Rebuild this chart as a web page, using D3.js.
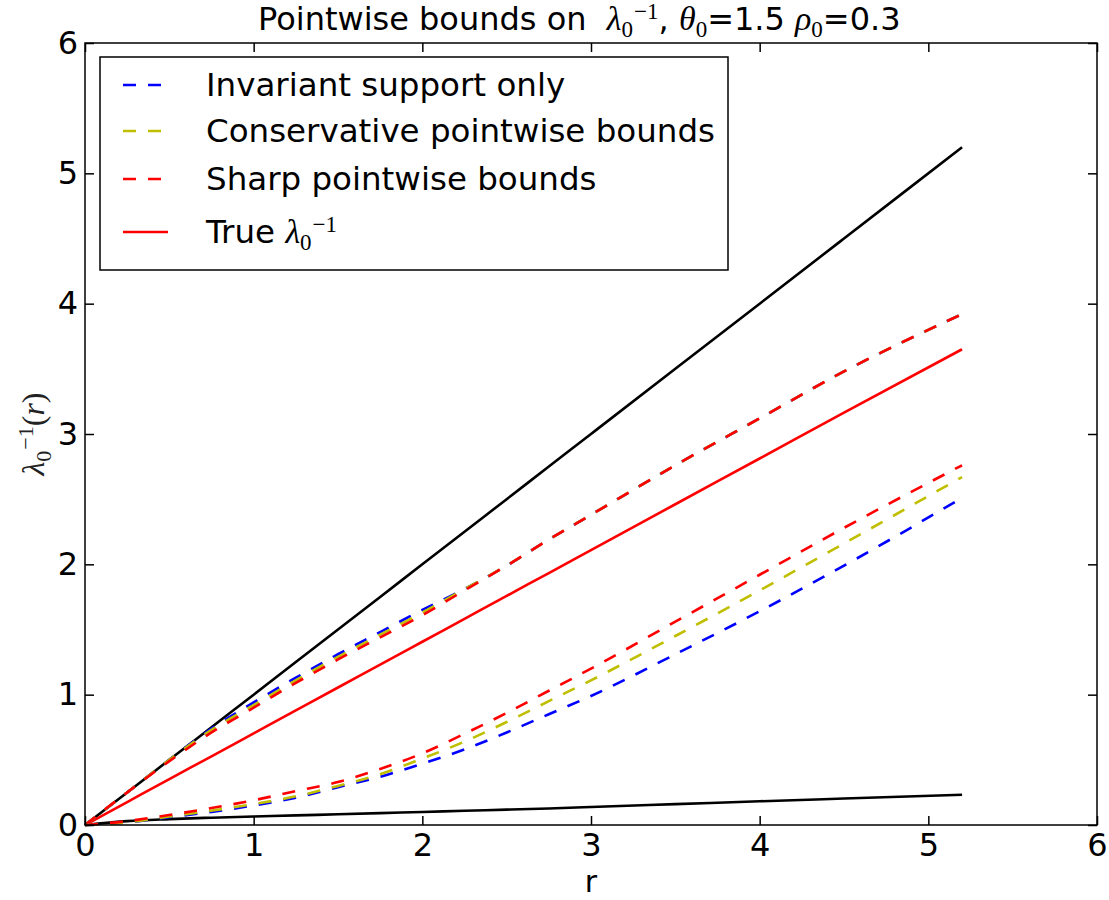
<!DOCTYPE html>
<html lang="en">

<head>
  <meta charset="UTF-8">
  <title>Pointwise bounds</title>
  <script src="https://d3js.org/d3.v7.min.js"></script>
  <style>
    body { margin: 0; background: #fff; }
    text { font-family: "DejaVu Sans", sans-serif; }
  </style>
</head>

<body>
  <script>

    // r grid shared by every curve
    var rValues = [0, 0.25, 0.5, 0.75, 1, 1.25, 1.5, 1.75, 2, 2.25, 2.5, 2.75, 3, 3.5, 4, 4.5, 5.2];

    // outer black envelope
    var blackUpper = [0, 0.25, 0.5, 0.75, 1, 1.25, 1.5, 1.75, 2, 2.25, 2.5, 2.75, 3, 3.5, 4, 4.5, 5.2];
    var blackLower = [0, 0.03, 0.045, 0.056, 0.065, 0.074, 0.082, 0.091, 0.1, 0.109, 0.118, 0.127, 0.138, 0.16, 0.182, 0.203, 0.232];

    // true lambda_0^{-1}
    var trueLambda = [0, 0.176, 0.352, 0.527, 0.703, 0.879, 1.055, 1.23, 1.406, 1.582, 1.758, 1.933, 2.109, 2.461, 2.812, 3.164, 3.65];

    // upper bounds
    var invUpper = [0, 0.25, 0.5, 0.74, 0.94, 1.13, 1.31, 1.48, 1.65, 1.81, 1.99, 2.19, 2.38, 2.76, 3.12, 3.48, 3.92];
    var consUpper = [0, 0.25, 0.5, 0.73, 0.92, 1.11, 1.29, 1.46, 1.63, 1.81, 1.99, 2.19, 2.38, 2.76, 3.12, 3.48, 3.92];
    var sharpUpper = [0, 0.25, 0.49, 0.71, 0.9, 1.09, 1.27, 1.44, 1.61, 1.8, 1.99, 2.19, 2.38, 2.76, 3.12, 3.48, 3.92];

    // lower bounds
    var invLower = [0, 0.02, 0.06, 0.1, 0.15, 0.21, 0.29, 0.37, 0.47, 0.58, 0.71, 0.85, 0.99, 1.31, 1.64, 1.99, 2.51];
    var consLower = [0, 0.02, 0.065, 0.11, 0.16, 0.22, 0.3, 0.39, 0.51, 0.64, 0.79, 0.95, 1.11, 1.45, 1.8, 2.16, 2.67];
    var sharpLower = [0, 0.03, 0.077, 0.13, 0.19, 0.26, 0.33, 0.43, 0.55, 0.7, 0.86, 1.03, 1.2, 1.56, 1.92, 2.28, 2.76];

    var xTicks = [0, 1, 2, 3, 4, 5, 6];
    var yTicks = [0, 1, 2, 3, 4, 5, 6];

    var legendLabels = ["Invariant support only", "Conservative pointwise bounds", "Sharp pointwise bounds", "True"];

    var W = 1109, H = 900;
    var margin = { top: 43, right: 12, bottom: 75, left: 85 };

    var x = d3.scaleLinear().domain([0, 6]).range([margin.left, W - margin.right]);
    var y = d3.scaleLinear().domain([0, 6]).range([H - margin.bottom, margin.top]);

    var svg = d3.select("body").append("svg")
      .attr("width", W)
      .attr("height", H);

    var serif = "'Liberation Serif', 'DejaVu Serif', serif";
    var fs = 32;

    // series to draw (order = paint order)
    var series = [
      { v: blackUpper, color: "#000", dash: null },
      { v: blackLower, color: "#000", dash: null },
      { v: trueLambda, color: "#ff0000", dash: null },
      { v: invUpper, color: "#0000ff", dash: "13,12" },
      { v: consUpper, color: "#bfbf00", dash: "13,12" },
      { v: sharpUpper, color: "#ff0000", dash: "13,12" },
      { v: invLower, color: "#0000ff", dash: "13,12" },
      { v: consLower, color: "#bfbf00", dash: "13,12" },
      { v: sharpLower, color: "#ff0000", dash: "13,12" }
    ];

    var line = d3.line()
      .x(function (d, i) { return x(rValues[i]); })
      .y(function (d) { return y(d); })
      .curve(d3.curveMonotoneX);

    series.forEach(function (s) {
      svg.append("path")
        .datum(s.v)
        .attr("fill", "none")
        .attr("stroke", s.color)
        .attr("stroke-width", 2.6)
        .attr("stroke-dasharray", s.dash)
        .attr("d", line);
    });

    // axes, ticks pointing inward
    function styleAxis(g) {
      g.select(".domain").remove();
      g.selectAll(".tick line").attr("stroke", "#000").attr("stroke-width", 1.5);
      g.selectAll(".tick text").attr("font-size", fs).attr("fill", "#000")
        .attr("font-family", "'DejaVu Sans', sans-serif");
    }

    svg.append("g")
      .attr("transform", "translate(0," + y(0) + ")")
      .call(d3.axisBottom(x).tickValues(xTicks).tickFormat(d3.format("d")).tickSize(-9).tickPadding(8))
      .call(styleAxis);

    svg.append("g")
      .attr("transform", "translate(0," + y(6) + ")")
      .call(d3.axisTop(x).tickValues(xTicks).tickFormat("").tickSize(-9))
      .call(styleAxis);

    svg.append("g")
      .attr("transform", "translate(" + x(0) + ",0)")
      .call(d3.axisLeft(y).tickValues(yTicks).tickFormat(d3.format("d")).tickSize(-9).tickPadding(7))
      .call(styleAxis);

    svg.append("g")
      .attr("transform", "translate(" + x(6) + ",0)")
      .call(d3.axisRight(y).tickValues(yTicks).tickFormat("").tickSize(-9))
      .call(styleAxis);

    svg.append("rect")
      .attr("x", x(0)).attr("y", y(6))
      .attr("width", x(6) - x(0)).attr("height", y(0) - y(6))
      .attr("fill", "none").attr("stroke", "#000").attr("stroke-width", 1.5);

    // helper: λ_0^{-1}-style math pieces
    function addParts(t, parts) {
      parts.forEach(function (p) {
        var ts = t.append("tspan").text(p.t);
        if (p.serif) ts.attr("font-family", serif).attr("font-style", "italic");
        if (p.plainSerif) ts.attr("font-family", serif);
        if (p.size) ts.attr("font-size", p.size);
        if (p.dy) ts.attr("dy", p.dy);
        if (p.dx) ts.attr("dx", p.dx);
      });
    }

    // title
    var title = svg.append("text")
      .attr("x", 258).attr("y", 30)
      .attr("font-size", fs).attr("fill", "#000");
    addParts(title, [
      { t: "Pointwise bounds on\u00a0\u00a0" },
      { t: "\u03bb", serif: true, size: 34 },
      { t: "0", plainSerif: true, size: 23, dy: 7 },
      { t: "\u22121", plainSerif: true, size: 23, dy: -18, dx: 1 },
      { t: ", ", dy: 11 },
      { t: "\u03b8", serif: true, size: 34 },
      { t: "0", plainSerif: true, size: 23, dy: 7 },
      { t: "=1.5 ", dy: -7 },
      { t: "\u03c1", serif: true, size: 34 },
      { t: "0", plainSerif: true, size: 23, dy: 7 },
      { t: "=0.3", dy: -7 }
    ]);

    // x label
    svg.append("text")
      .attr("x", (x(0) + x(6)) / 2).attr("y", 892)
      .attr("text-anchor", "middle")
      .attr("font-size", 30)
      .text("r");

    // y label
    var ylab = svg.append("text")
      .attr("transform", "translate(44," + y(3) + ") rotate(-90)")
      .attr("text-anchor", "middle")
      .attr("font-size", 30).attr("fill", "#222");
    addParts(ylab, [
      { t: "\u03bb", serif: true, size: 32 },
      { t: "0", plainSerif: true, size: 22, dy: 7 },
      { t: "\u22121", plainSerif: true, size: 22, dy: -18, dx: 1 },
      { t: "(", plainSerif: true, size: 32, dy: 11 },
      { t: "r", serif: true, size: 32 },
      { t: ")", plainSerif: true, size: 32 }
    ]);

    // legend
    var legendColors = ["#0000ff", "#bfbf00", "#ff0000", "#ff0000"];
    var legendDash = ["13,12", "13,12", "13,12", null];
    var legendY = [85, 131, 179, 232];

    svg.append("rect")
      .attr("x", 100).attr("y", 57)
      .attr("width", 628).attr("height", 213)
      .attr("fill", "#fff").attr("stroke", "#000").attr("stroke-width", 1.5);

    legendLabels.forEach(function (lab, i) {
      svg.append("line")
        .attr("x1", 123).attr("x2", 168)
        .attr("y1", legendY[i]).attr("y2", legendY[i])
        .attr("stroke", legendColors[i])
        .attr("stroke-width", 2.6)
        .attr("stroke-dasharray", legendDash[i]);
      var t = svg.append("text")
        .attr("x", 206).attr("y", legendY[i] + 11)
        .attr("font-size", 32.5).attr("fill", "#000");
      if (i < 3) {
        t.text(lab);
      } else {
        addParts(t, [
          { t: lab + " " },
          { t: "\u03bb", serif: true, size: 34 },
          { t: "0", plainSerif: true, size: 23, dy: 7 },
          { t: "\u22121", plainSerif: true, size: 23, dy: -18, dx: 1 }
        ]);
      }
    });
  </script>
</body>

</html>
